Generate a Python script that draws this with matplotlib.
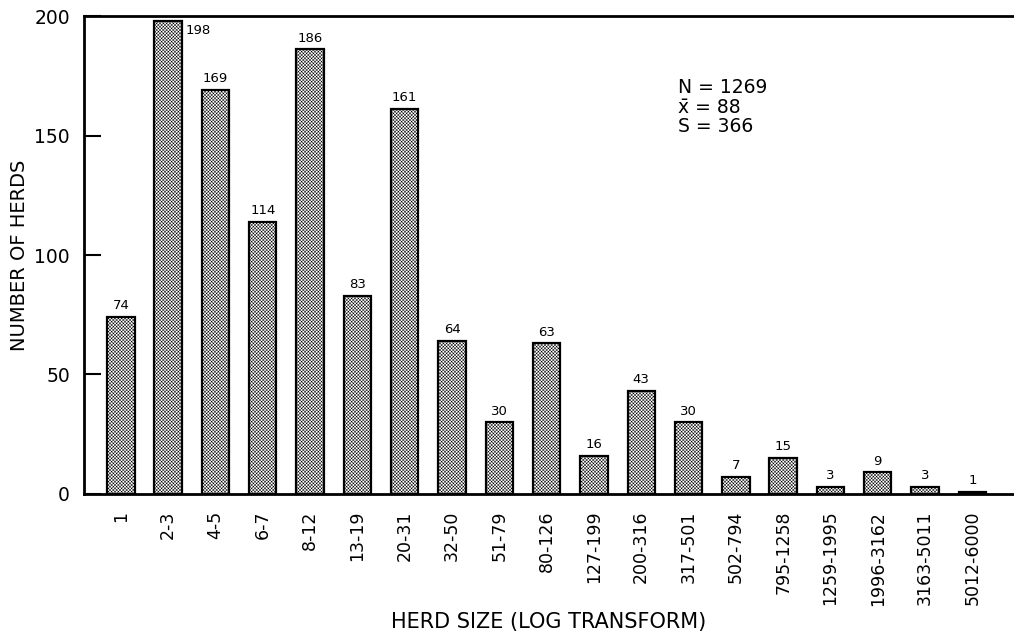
import numpy as np
import matplotlib
matplotlib.use('Agg')
import matplotlib.pyplot as plt

# herd size classes and counts
size_classes = ['1', '2-3', '4-5', '6-7', '8-12', '13-19', '20-31', '32-50',
                '51-79', '80-126', '127-199', '200-316', '317-501', '502-794',
                '795-1258', '1259-1995', '1996-3162', '3163-5011', '5012-6000']
herd_counts = [74, 198, 169, 114, 186, 83, 161, 64, 30, 63, 16, 43, 30,
               7, 15, 3, 9, 3, 1]
y_ticks = [0, 50, 100, 150, 200]
summary_lines = ['N = 1269', 'x\u0304 = 88', 'S = 366']

plt.rcParams['font.family'] = 'DejaVu Sans'
plt.rcParams['hatch.linewidth'] = 0.35

fig = plt.figure(figsize=(10.14, 6.36), dpi=100)
ax = fig.add_axes([0.0828, 0.2233, 0.9172, 0.7515])

x = np.arange(len(size_classes))
bars = ax.bar(x, herd_counts, width=0.58, facecolor='white',
              edgecolor='black', linewidth=1.6, hatch='x' * 10)

for b, v in zip(bars, herd_counts):
    if v >= 195:
        # too close to the frame, put it beside the bar
        ax.text(b.get_x() + b.get_width() + 0.08, v - 4, str(v),
                ha='left', va='center', fontsize=9.5)
    else:
        ax.text(b.get_x() + b.get_width() / 2, v + 2, str(v),
                ha='center', va='bottom', fontsize=9.5)

ax.set_xlim(-0.78, 18.88)
ax.set_ylim(0, 200)
ax.set_yticks(y_ticks)
ax.set_yticklabels([str(t) for t in y_ticks], fontsize=13.5)
ax.tick_params(axis='y', direction='in', length=12, width=1.5, pad=10)
ax.set_xticks(x)
ax.set_xticklabels(size_classes, rotation=90, fontsize=12.5)
ax.tick_params(axis='x', length=0, pad=12)

for side in ['left', 'bottom', 'top']:
    ax.spines[side].set_linewidth(2)
ax.spines['right'].set_visible(False)

ax.set_ylabel('NUMBER OF HERDS', fontsize=14, labelpad=4)
ax.set_xlabel('HERD SIZE (LOG TRANSFORM)', fontsize=15, labelpad=5)

for k, line in enumerate(summary_lines):
    ax.text(11.78, 170 - k * 8.2, line, fontsize=13.5, ha='left', va='center')

fig.savefig('out.png', dpi=100)
